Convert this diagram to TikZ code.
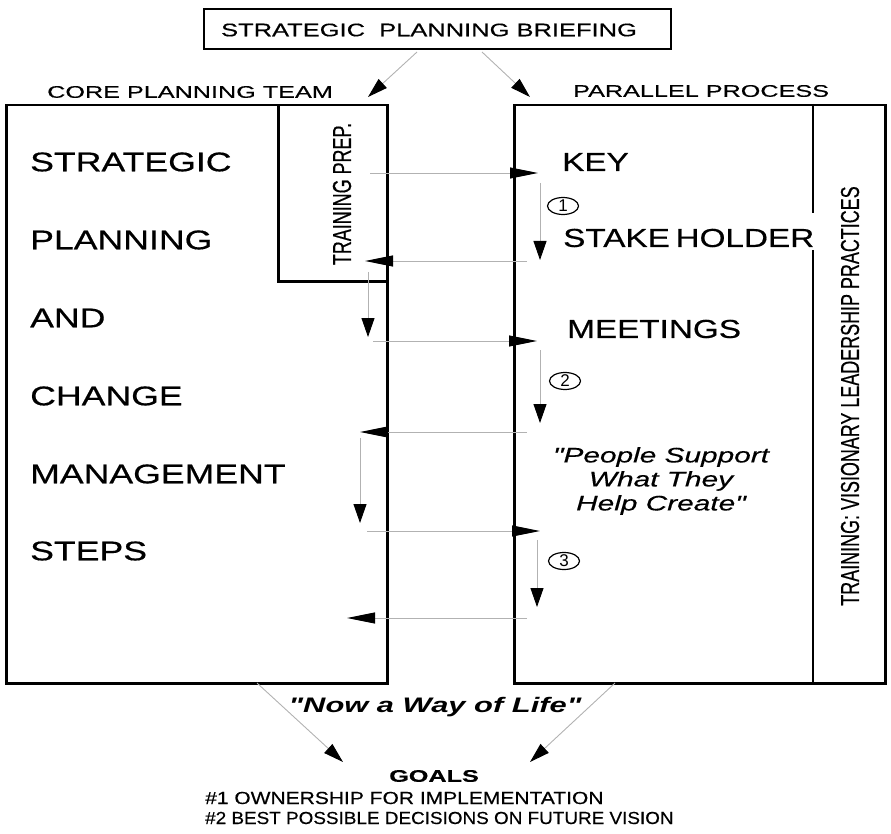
\documentclass[tikz,border=0pt]{standalone}
\usepackage{fontspec}
\setmainfont{Liberation Sans}
% widened and narrowed cuts of the same sans face
\newfontfamily\bigfont[FakeStretch=1.32,FakeBold=0.5]{Liberation Sans}
\newfontfamily\keyfont[FakeStretch=1.28,FakeBold=0.5]{Liberation Sans}
\newfontfamily\labfont[FakeStretch=1.5,FakeBold=0.4]{Liberation Sans}
\newfontfamily\titlefont[FakeStretch=1.4,FakeBold=0.4]{Liberation Sans}
\newfontfamily\narrowfont[FakeStretch=0.69,FakeBold=0.4]{Liberation Sans}
\newfontfamily\goalfont[FakeStretch=1.08,FakeBold=0.4]{Liberation Sans}
\newfontfamily\goalfontwide[FakeStretch=1.2,FakeBold=0.4]{Liberation Sans}
\newfontfamily\quotefont[FakeStretch=1.42,FakeBold=0.4]{Liberation Sans}
\newfontfamily\lifefont[FakeStretch=1.47]{Liberation Sans}
\usetikzlibrary{arrows.meta,shapes.geometric}

\begin{document}
\begin{tikzpicture}[x=1pt,y=-1pt,
  frame/.style={draw=black,line width=2.5pt,inner sep=0pt,anchor=north west},
  flow/.style={draw=black!30,line width=0.9pt},
  hhead/.style={-{Triangle[length=28pt,width=11pt,color=black]}},
  vhead/.style={-{Triangle[length=19pt,width=13pt,color=black]}},
  dhead/.style={-{Triangle[length=20pt,width=12pt,color=black]}},
  stepword/.style={anchor=west,inner sep=0pt,font=\bigfont\fontsize{27}{30}\selectfont},
  keyword/.style={anchor=west,inner sep=0pt,font=\keyfont\fontsize{26}{30}\selectfont},
  header/.style={anchor=west,inner sep=0pt,font=\labfont\fontsize{16.8}{20}\selectfont},
  sidetext/.style={rotate=90,inner sep=0pt,font=\narrowfont\fontsize{26}{30}\selectfont},
  stepnum/.style={draw=black,line width=1.2pt,ellipse,inner sep=0pt,
    minimum width=31pt,minimum height=17pt,font=\fontsize{17}{18}\selectfont},
  goalline/.style={anchor=west,inner sep=0pt,font=\goalfont\fontsize{17.5}{20}\selectfont}
]
\useasboundingbox (0,0) rectangle (891,834);

% briefing box on top
\node[draw=black,line width=2pt,minimum width=467pt,minimum height=40pt,anchor=north west,inner sep=0pt]
  (brief) at (203,8) {};
\node[inner sep=0pt,font=\titlefont\fontsize{18.2}{20}\selectfont] (brieftext) at (429,30)
  {STRATEGIC\ \ PLANNING BRIEFING};

% column headers
\node[header] (coreh) at (47,92) {CORE PLANNING TEAM};
\node[header] (parh) at (573,91) {PARALLEL PROCESS};

% the two process columns
\node[frame,minimum width=381pt,minimum height=578pt] (core) at (5,104) {};
\node[frame,minimum width=109pt,minimum height=176pt] (prep) at (277,104) {};
\node[frame,minimum width=371pt,minimum height=578pt] (par) at (513,104) {};
\draw[line width=2.5pt] (813,104) -- (813,213);
\draw[line width=2.5pt] (813,250) -- (813,682);

% rotated training labels
\node[sidetext] (preptext) at (342,194) {TRAINING PREP.};
\node[sidetext] (visiontext) at (850,396) {TRAINING: VISIONARY LEADERSHIP PRACTICES};

% core team steps
\node[stepword] (w1) at (30,162) {STRATEGIC};
\node[stepword] (w2) at (30,240) {PLANNING};
\node[stepword] (w3) at (30,318) {AND};
\node[stepword] (w4) at (30,396) {CHANGE};
\node[stepword] (w5) at (30,474) {MANAGEMENT};
\node[stepword] (w6) at (30,551) {STEPS};

% stakeholder meetings
\node[keyword] (k1) at (562,162) {KEY};
\node[keyword] (k2) at (563,238) {STAKE\hspace{-3.5pt} HOLDER};
\node[keyword] (k3) at (567,329) {MEETINGS};

\node[stepnum] (n1) at (563,206) {1};
\node[stepnum] (n2) at (565,381) {2};
\node[stepnum] (n3) at (564,561) {3};

\node[inner sep=0pt,align=center,font=\quotefont\itshape\fontsize{21}{24}\selectfont] (motto)
  at (661,481) {"People Support\\What They\\Help Create"};

% connector ends
\coordinate (bl) at (417,52);  \coordinate (blt) at (368,97);
\coordinate (br) at (482,52);  \coordinate (brt) at (530,97);
\coordinate (h1s) at (370,173); \coordinate (h1e) at (538,173);
\coordinate (v1s) at (540,183); \coordinate (v1e) at (540,260);
\coordinate (l1s) at (527,261); \coordinate (l1e) at (365,261);
\coordinate (u1s) at (368,272); \coordinate (u1e) at (368,337);
\coordinate (h2s) at (373,341); \coordinate (h2e) at (537,341);
\coordinate (v2s) at (540,350); \coordinate (v2e) at (540,423);
\coordinate (l2s) at (527,432); \coordinate (l2e) at (360,432);
\coordinate (u2s) at (360,438); \coordinate (u2e) at (360,523);
\coordinate (h3s) at (367,531); \coordinate (h3e) at (540,531);
\coordinate (v3s) at (537,540); \coordinate (v3e) at (537,607);
\coordinate (l3s) at (527,618); \coordinate (l3e) at (347,618);
\coordinate (gl) at (257,683);  \coordinate (glt) at (343,762);
\coordinate (gr) at (615,683);  \coordinate (grt) at (530,762);

% briefing feeds both columns
\draw[flow,dhead] (bl) -- (blt);
\draw[flow,dhead] (br) -- (brt);

% back and forth between the columns
\draw[flow,hhead] (h1s) -- (h1e);
\draw[flow,vhead] (v1s) -- (v1e);
\draw[flow,hhead] (l1s) -- (l1e);
\draw[flow,vhead] (u1s) -- (u1e);
\draw[flow,hhead] (h2s) -- (h2e);
\draw[flow,vhead] (v2s) -- (v2e);
\draw[flow,hhead] (l2s) -- (l2e);
\draw[flow,vhead] (u2s) -- (u2e);
\draw[flow,hhead] (h3s) -- (h3e);
\draw[flow,vhead] (v3s) -- (v3e);
\draw[flow,hhead] (l3s) -- (l3e);

% both columns lead to the goals
\draw[flow,dhead] (gl) -- (glt);
\draw[flow,dhead] (gr) -- (grt);

\node[inner sep=0pt,font=\lifefont\bfseries\itshape\fontsize{21}{24}\selectfont] (life)
  at (435,707) {"Now a Way of Life"};

\node[inner sep=0pt,font=\labfont\bfseries\fontsize{16.8}{20}\selectfont] (goals) at (434,776) {GOALS};
\node[goalline,font=\goalfontwide\fontsize{17.5}{20}\selectfont] (g1) at (205,798) {\#1 OWNERSHIP FOR IMPLEMENTATION};
\node[goalline] (g2) at (205,818) {\#2 BEST POSSIBLE DECISIONS ON FUTURE VISION};
\end{tikzpicture}
\end{document}
